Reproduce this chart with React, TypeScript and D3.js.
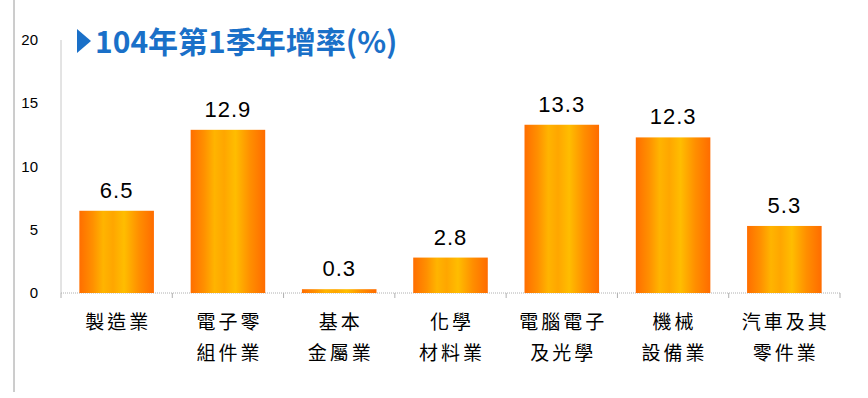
import * as d3 from "d3";

const categories = ["製造業", "電子零|組件業", "基本|金屬業", "化學|材料業", "電腦電子|及光學", "機械|設備業", "汽車及其|零件業"];
const values = [6.5, 12.9, 0.3, 2.8, 13.3, 12.3, 5.3];
const yTicks = [0, 5, 10, 15, 20];
const title = "104年第1季年增率(%)";

export default function App() {
  const width = 868;
  const height = 398;
  const left = 61;
  const right = 840;
  const x = d3.scaleBand<string>().domain(categories).range([left, right]).paddingInner(0.33).paddingOuter(0.165);
  const y = d3.scaleLinear().domain([0, 20]).range([293, 40]);
  const cjk = "'Noto Sans CJK TC', 'Liberation Sans', Arial, sans-serif";
  const num = "'Liberation Sans', Arial, sans-serif";
  const step = x.step();

  return (
    <svg width={width} height={height} style={{ position: "absolute", left: 0, top: 0, background: "#fff" }}>
      <defs>
        <linearGradient id="barGrad" x1="0" x2="1" y1="0" y2="0">
          <stop offset="0%" stopColor="#ff6e00" />
          <stop offset="18%" stopColor="#ff9000" />
          <stop offset="32%" stopColor="#ffb400" />
          <stop offset="45%" stopColor="#ffa600" />
          <stop offset="60%" stopColor="#ffbd00" />
          <stop offset="80%" stopColor="#ff8e00" />
          <stop offset="100%" stopColor="#ff6c00" />
        </linearGradient>
      </defs>
      <line x1={14} x2={14} y1={0} y2={392} stroke="#9a9a9a" strokeWidth={1} />
      <line x1={left} x2={left} y1={y(20)} y2={y(0)} stroke="#c8c8c8" />
      <line x1={left} x2={right} y1={y(0)} y2={y(0)} stroke="#b0b0b0" strokeDasharray="1 1" />
      {yTicks.map((t) => (
        <text key={t} x={38} y={y(t) + 5} textAnchor="end" fontSize={15} fontFamily={num} fill="#000">
          {t}
        </text>
      ))}
      {d3.range(categories.length + 1).map((i) => (
        <line key={i} x1={left + i * step} x2={left + i * step} y1={y(0)} y2={y(0) + 5} stroke="#b0b0b0" />
      ))}
      {categories.map((c, i) => {
        const bx = x(c) ?? 0;
        const v = values[i];
        const cx = bx + x.bandwidth() / 2;
        const lines = c.split("|");
        return (
          <g key={c}>
            <rect x={bx} y={y(v)} width={x.bandwidth()} height={y(0) - y(v)} fill="url(#barGrad)" />
            <text x={cx} y={y(v) - 13} textAnchor="middle" fontSize={22} letterSpacing={1} fontFamily={num} fill="#000">
              {v.toFixed(1)}
            </text>
            {lines.map((l, j) => (
              <text key={j} x={cx + 1.5} y={329 + j * 31} textAnchor="middle" fontSize={19} letterSpacing={3} fontFamily={cjk} fill="#000">
                {l}
              </text>
            ))}
          </g>
        );
      })}
      <path d="M77,29 L91,41 L77,53 Z" fill="#1a70c8" />
      <text x={95} y={53} fontSize={30} fontWeight="bold" fontFamily={cjk} fill="#1a70c8">
        {title}
      </text>
    </svg>
  );
}
